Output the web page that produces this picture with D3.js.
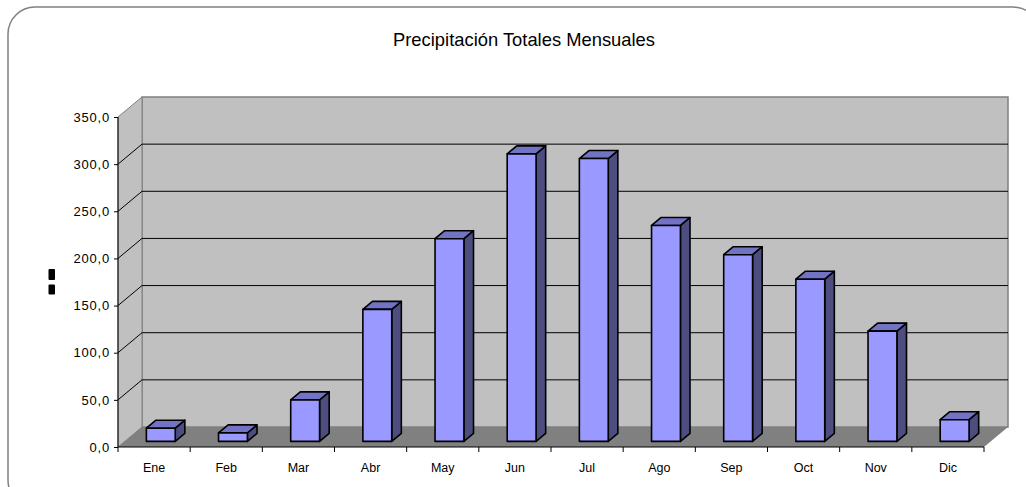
<!DOCTYPE html>
<html>
<head>
<meta charset="utf-8">
<script src="https://cdn.jsdelivr.net/npm/d3@7"></script>
<style>
  body { margin: 0; background: #fff; }
  svg { display: block; font-family: "Liberation Sans", Arial, sans-serif; }
</style>
</head>
<body>
<div id="chart"></div>
<script>
// --- Data ---
const months = ["Ene", "Feb", "Mar", "Abr", "May", "Jun", "Jul", "Ago", "Sep", "Oct", "Nov", "Dic"];
const precip = [14, 9, 44, 140, 215, 305, 300, 229, 198, 172, 117, 23];
const yTicks = [0, 50, 100, 150, 200, 250, 300, 350];
const chartTitle = "Precipitación Totales Mensuales";

const width = 1026, height = 487;

// --- 3D depth offsets ---
const DX = 24, DY = -20;
const barFront = 0.28, barBack = 0.68;

const svg = d3.select("#chart").append("svg")
    .attr("width", width)
    .attr("height", height);

// --- Outer frame ---
svg.append("rect")
    .attr("x", 8).attr("y", 7)
    .attr("width", 1032).attr("height", 500)
    .attr("rx", 27).attr("ry", 27)
    .attr("fill", "#fff")
    .attr("stroke", "#808080")
    .attr("stroke-width", 1.5);

// --- Scales ---
const x = d3.scaleBand().domain(months).range([118, 984]).padding(0);
const y = d3.scaleLinear().domain([0, 350]).range([447, 117]);

const P = (px, py, d) => [px + DX * d, py + DY * d];
const poly = pts => pts.map(p => p.join(",")).join(" ");

const x0 = x.range()[0], x1 = x.range()[1];

// --- Walls ---
// back wall
svg.append("polygon")
    .attr("points", poly([P(x0, y(350), 1), P(x1, y(350), 1), P(x1, y(0), 1), P(x0, y(0), 1)]))
    .attr("fill", "#c0c0c0")
    .attr("stroke", "#808080")
    .attr("stroke-width", 1.5);

// left wall
svg.append("polygon")
    .attr("points", poly([P(x0, y(0), 0), P(x0, y(350), 0), P(x0, y(350), 1), P(x0, y(0), 1)]))
    .attr("fill", "#c0c0c0")
    .attr("stroke", "#808080")
    .attr("stroke-width", 1);

// --- Gridlines ---
const grid = svg.append("g").attr("class", "grid");
yTicks.filter(t => t > 0 && t < 350).forEach(t => {
    const a = P(x0, y(t), 0), b = P(x0, y(t), 1), c = P(x1, y(t), 1);
    grid.append("polyline")
        .attr("points", poly([a, b, c]))
        .attr("fill", "none")
        .attr("stroke", "#000")
        .attr("stroke-width", 1);
});

// --- Floor ---
svg.append("polygon")
    .attr("points", poly([P(x0, y(0), 0), P(x1, y(0), 0), P(x1, y(0), 1), P(x0, y(0), 1)]))
    .attr("fill", "#808080");

// --- Bars ---
const bw = x.bandwidth() * 0.4;
const bars = svg.append("g").attr("class", "bars");
months.forEach((m, i) => {
    const v = precip[i];
    const l = x(m) + x.bandwidth() / 2 - bw / 2;
    const r = l + bw;
    const yt = y(v), yb = y(0);
    const g = bars.append("g")
        .attr("stroke", "#000")
        .attr("stroke-width", 1.6)
        .attr("stroke-linejoin", "round");
    // side
    g.append("polygon")
        .attr("points", poly([P(r, yb, barFront), P(r, yt, barFront), P(r, yt, barBack), P(r, yb, barBack)]))
        .attr("fill", "#4d4d80");
    // top
    g.append("polygon")
        .attr("points", poly([P(l, yt, barFront), P(r, yt, barFront), P(r, yt, barBack), P(l, yt, barBack)]))
        .attr("fill", "#7373c6");
    // front
    g.append("polygon")
        .attr("points", poly([P(l, yb, barFront), P(r, yb, barFront), P(r, yt, barFront), P(l, yt, barFront)]))
        .attr("fill", "#9999ff");
});

// --- Y axis ---
const yAxis = svg.append("g").attr("transform", `translate(${x0},0)`)
    .call(d3.axisLeft(y).tickValues(yTicks).tickSize(4).tickPadding(4)
        .tickFormat(d => d3.format(".1f")(d).replace(".", ",")));
yAxis.select(".domain").attr("stroke", "#000").attr("d", `M0,${y(0)}V${y(350)}`);
yAxis.selectAll(".tick line").attr("stroke", "#000");
yAxis.selectAll(".tick text")
    .attr("fill", "#000")
    .style("font-size", "13px")
    .style("letter-spacing", "0.8px")
    .attr("font-family", "Liberation Sans, Arial, sans-serif");

// --- X axis ---
const xAxis = svg.append("g").attr("transform", `translate(0,${y(0)})`);
xAxis.append("line")
    .attr("x1", x0).attr("x2", x1)
    .attr("stroke", "#000").attr("stroke-width", 1);
xAxis.selectAll("line.tk")
    .data(months.map(m => x(m)).concat([x1]))
    .enter().append("line")
    .attr("class", "tk")
    .attr("x1", d => d).attr("x2", d => d)
    .attr("y1", 0).attr("y2", 5)
    .attr("stroke", "#000");
xAxis.selectAll("text")
    .data(months)
    .enter().append("text")
    .attr("x", d => x(d) + x.bandwidth() / 2)
    .attr("y", 25)
    .attr("text-anchor", "middle")
    .attr("font-size", "12.5px")
    .attr("fill", "#000")
    .text(d => d);

// --- Garbled axis title glyph ---
const glyph = svg.append("g").attr("fill", "#000");
glyph.append("rect").attr("x", 48.5).attr("y", 269).attr("width", 6.5).attr("height", 11).attr("rx", 1);
glyph.append("rect").attr("x", 48.5).attr("y", 284.5).attr("width", 6.5).attr("height", 10).attr("rx", 1);

// --- Title ---
svg.append("text")
    .attr("x", 524)
    .attr("y", 46)
    .attr("text-anchor", "middle")
    .attr("font-size", "18.5px")
    .attr("textLength", 262)
    .attr("lengthAdjust", "spacingAndGlyphs")
    .attr("fill", "#000")
    .text(chartTitle);
</script>
</body>
</html>
